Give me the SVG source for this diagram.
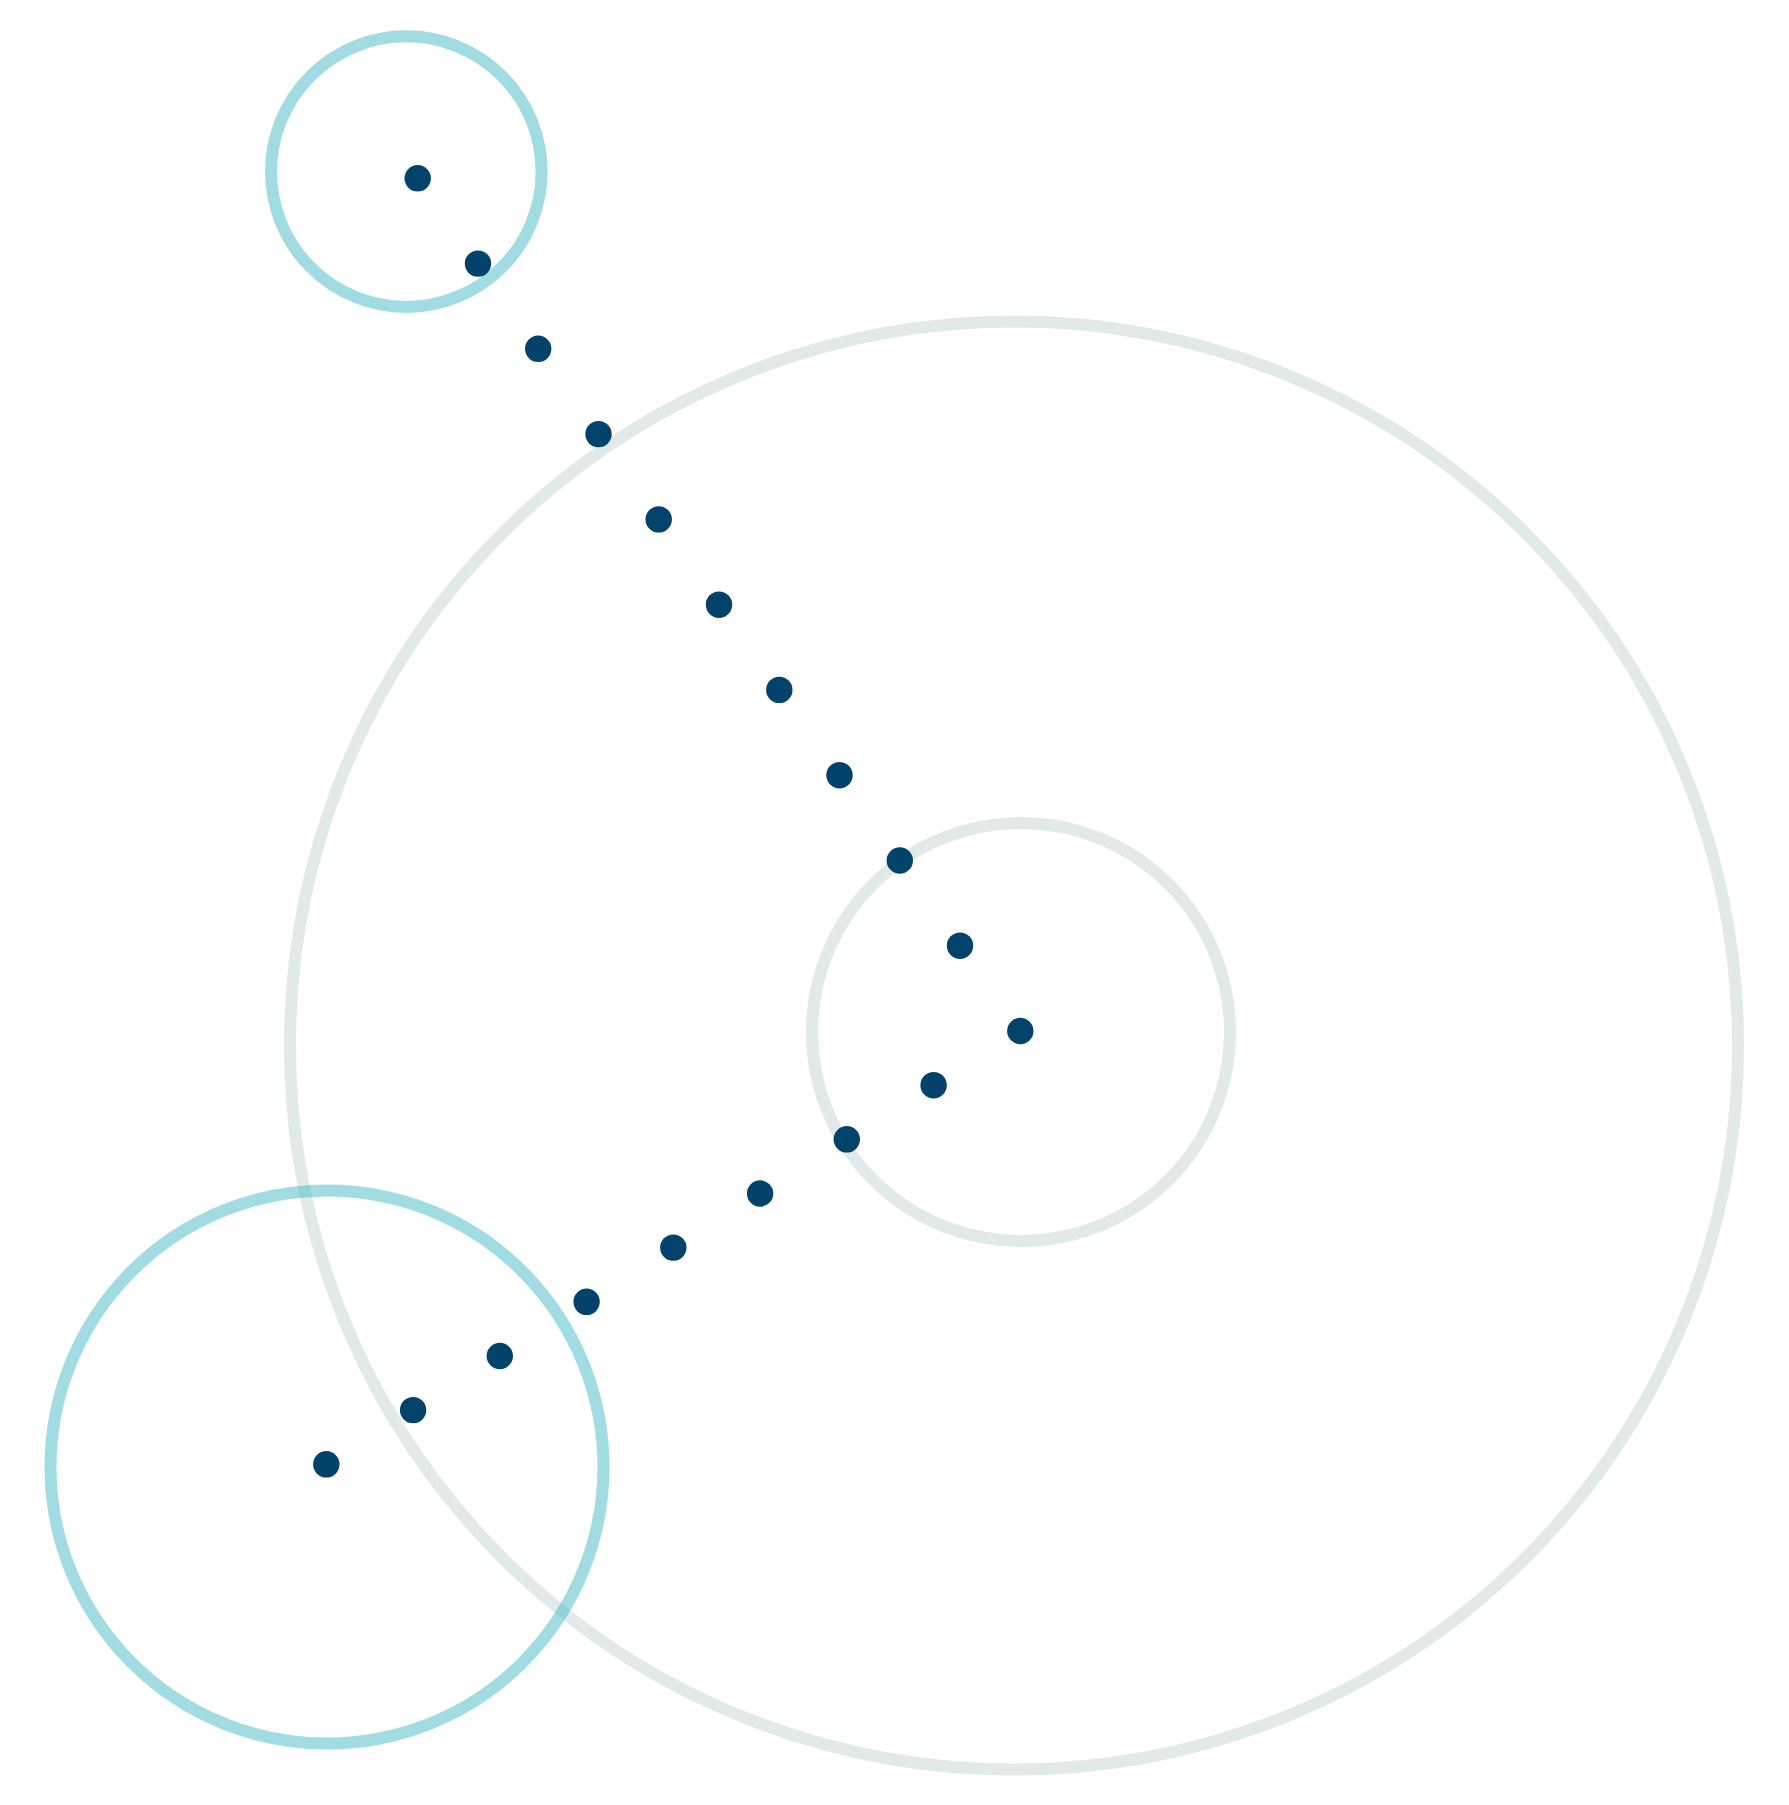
<svg xmlns="http://www.w3.org/2000/svg" width="1789" height="1805" viewBox="0 0 1789 1805">
<style>
.gray{fill:none;stroke:#c3d5d3;stroke-opacity:0.5;stroke-width:12}
.teal{fill:none;stroke:#41b9c5;stroke-opacity:0.5;stroke-width:12}
.dot{fill:#03436b}
</style>
<rect width="1789" height="1805" fill="#ffffff"/>
<g id="big"><circle class="gray" cx="1014" cy="1045.5" r="724"/></g>
<g id="mid"><circle class="gray" cx="1021" cy="1032" r="209"/></g>
<g id="topleft"><circle class="teal" cx="406.3" cy="171.6" r="135.3"/></g>
<g id="bottomleft"><circle class="teal" cx="327" cy="1467" r="276.5"/></g>
<g id="connectors">
<circle class="dot" cx="417.7" cy="178.3" r="13.2"/>
<circle class="dot" cx="478.0" cy="263.6" r="13.2"/>
<circle class="dot" cx="538.2" cy="348.8" r="13.2"/>
<circle class="dot" cx="598.5" cy="434.1" r="13.2"/>
<circle class="dot" cx="658.7" cy="519.4" r="13.2"/>
<circle class="dot" cx="719.0" cy="604.7" r="13.2"/>
<circle class="dot" cx="779.3" cy="689.9" r="13.2"/>
<circle class="dot" cx="839.5" cy="775.2" r="13.2"/>
<circle class="dot" cx="899.8" cy="860.5" r="13.2"/>
<circle class="dot" cx="960.0" cy="945.7" r="13.2"/>
<circle class="dot" cx="1020.3" cy="1031.0" r="13.2"/>
<circle class="dot" cx="933.6" cy="1085.2" r="13.2"/>
<circle class="dot" cx="846.8" cy="1139.3" r="13.2"/>
<circle class="dot" cx="760.1" cy="1193.5" r="13.2"/>
<circle class="dot" cx="673.3" cy="1247.6" r="13.2"/>
<circle class="dot" cx="586.6" cy="1301.8" r="13.2"/>
<circle class="dot" cx="499.8" cy="1356.0" r="13.2"/>
<circle class="dot" cx="413.1" cy="1410.1" r="13.2"/>
<circle class="dot" cx="326.3" cy="1464.3" r="13.2"/>
</g>
</svg>
